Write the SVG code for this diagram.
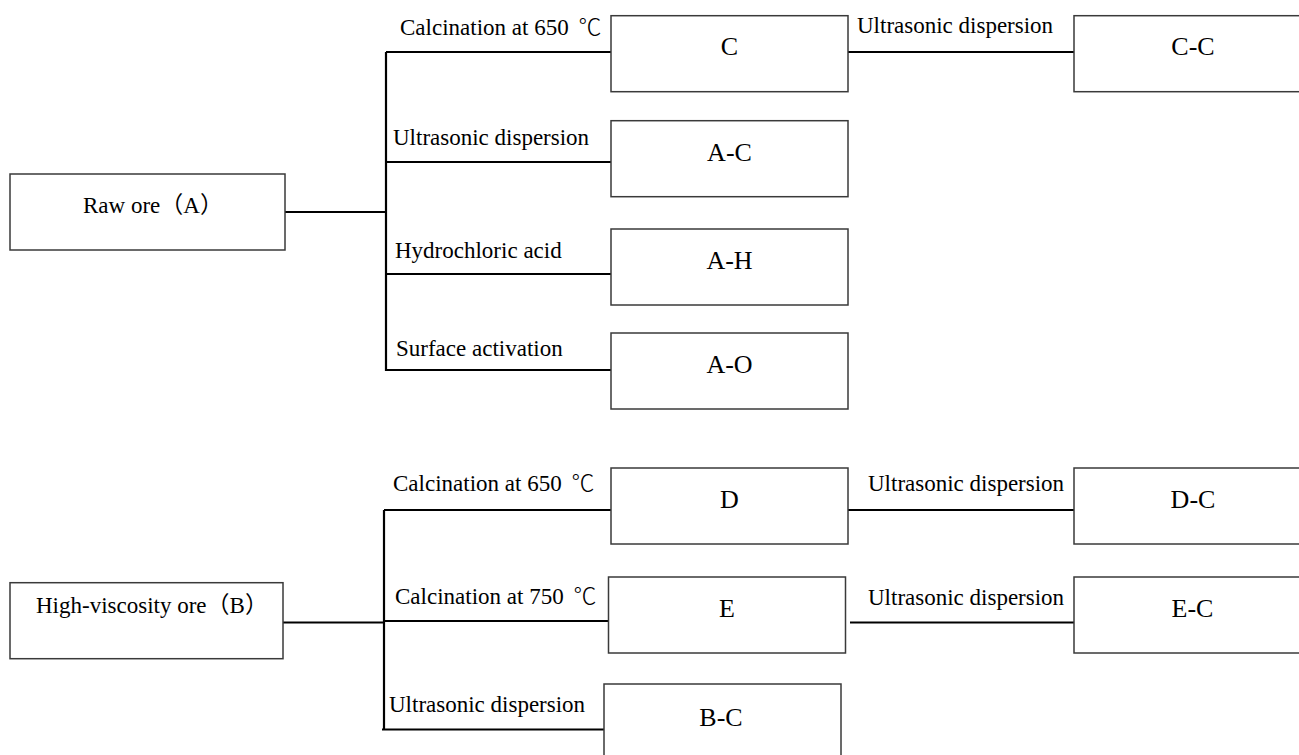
<svg xmlns="http://www.w3.org/2000/svg" width="1299" height="755" viewBox="0 0 1299 755">
<style>
.box{fill:#fff;stroke:#3a3a3a;stroke-width:1.5}
.ln{stroke:#000;stroke-width:2.2;fill:none}
text{font-family:"Liberation Serif","Noto Sans CJK SC",serif;fill:#000}
.lab{font-size:23px}
.deg{font-family:"Noto Sans CJK SC",sans-serif;font-weight:300}
.nl{font-size:26px;text-anchor:middle}
.nt{font-size:23px}
</style>
<rect width="1299" height="755" fill="#fff"/>
<g id="connectors">
<line class="ln" x1="285" y1="212" x2="386" y2="212"/>
<line class="ln" x1="386" y1="52" x2="386" y2="371"/>
<line class="ln" x1="386" y1="52" x2="611" y2="52"/>
<line class="ln" x1="386" y1="162" x2="611" y2="162"/>
<line class="ln" x1="386" y1="274" x2="611" y2="274"/>
<line class="ln" x1="386" y1="370" x2="611" y2="370"/>
<line class="ln" x1="848" y1="52" x2="1074" y2="52"/>
<line class="ln" x1="283" y1="622.5" x2="384" y2="622.5"/>
<line class="ln" x1="384" y1="510" x2="384" y2="729.5"/>
<line class="ln" x1="384" y1="510" x2="611" y2="510"/>
<line class="ln" x1="384" y1="621" x2="608.5" y2="621"/>
<line class="ln" x1="382" y1="729.5" x2="604" y2="729.5"/>
<line class="ln" x1="848" y1="510" x2="1074" y2="510"/>
<line class="ln" x1="850" y1="622.5" x2="1074" y2="622.5"/>
<text class="lab" x="400" y="35">Calcination at 650 <tspan class="deg" dx="4">℃</tspan></text>
<text class="lab" x="393" y="145">Ultrasonic dispersion</text>
<text class="lab" x="395" y="258">Hydrochloric acid</text>
<text class="lab" x="396" y="356">Surface activation</text>
<text class="lab" x="857" y="33">Ultrasonic dispersion</text>
<text class="lab" x="393" y="491">Calcination at 650 <tspan class="deg" dx="4">℃</tspan></text>
<text class="lab" x="395" y="604">Calcination at 750 <tspan class="deg" dx="4">℃</tspan></text>
<text class="lab" x="389" y="712">Ultrasonic dispersion</text>
<text class="lab" x="868" y="491">Ultrasonic dispersion</text>
<text class="lab" x="868" y="605">Ultrasonic dispersion</text>
</g>
<g id="node-A"><rect class="box" x="10" y="174" width="275" height="76"/><text class="nt" x="83" y="213">Raw ore（A）</text></g>
<g id="node-C"><rect class="box" x="611" y="15.7" width="237" height="76"/><text class="nl" x="729.5" y="55">C</text></g>
<g id="node-CC"><rect class="box" x="1074" y="15.7" width="237" height="76"/><text class="nl" x="1193" y="55">C-C</text></g>
<g id="node-AC"><rect class="box" x="611" y="120.7" width="237" height="76"/><text class="nl" x="729.5" y="161">A-C</text></g>
<g id="node-AH"><rect class="box" x="611" y="229" width="237" height="76"/><text class="nl" x="729.5" y="269">A-H</text></g>
<g id="node-AO"><rect class="box" x="611" y="333" width="237" height="76"/><text class="nl" x="729.5" y="373">A-O</text></g>
<g id="node-B"><rect class="box" x="10" y="582.7" width="273" height="76"/><text class="nt" x="36" y="613">High-viscosity ore（B）</text></g>
<g id="node-D"><rect class="box" x="611" y="468" width="237" height="76"/><text class="nl" x="729.5" y="508">D</text></g>
<g id="node-DC"><rect class="box" x="1074" y="468" width="237" height="76"/><text class="nl" x="1193" y="508">D-C</text></g>
<g id="node-E"><rect class="box" x="608.5" y="577" width="237" height="76"/><text class="nl" x="727" y="617">E</text></g>
<g id="node-EC"><rect class="box" x="1074" y="577" width="237" height="76"/><text class="nl" x="1192.5" y="617">E-C</text></g>
<g id="node-BC"><rect class="box" x="604" y="684" width="237" height="76"/><text class="nl" x="721" y="726">B-C</text></g>
</svg>
